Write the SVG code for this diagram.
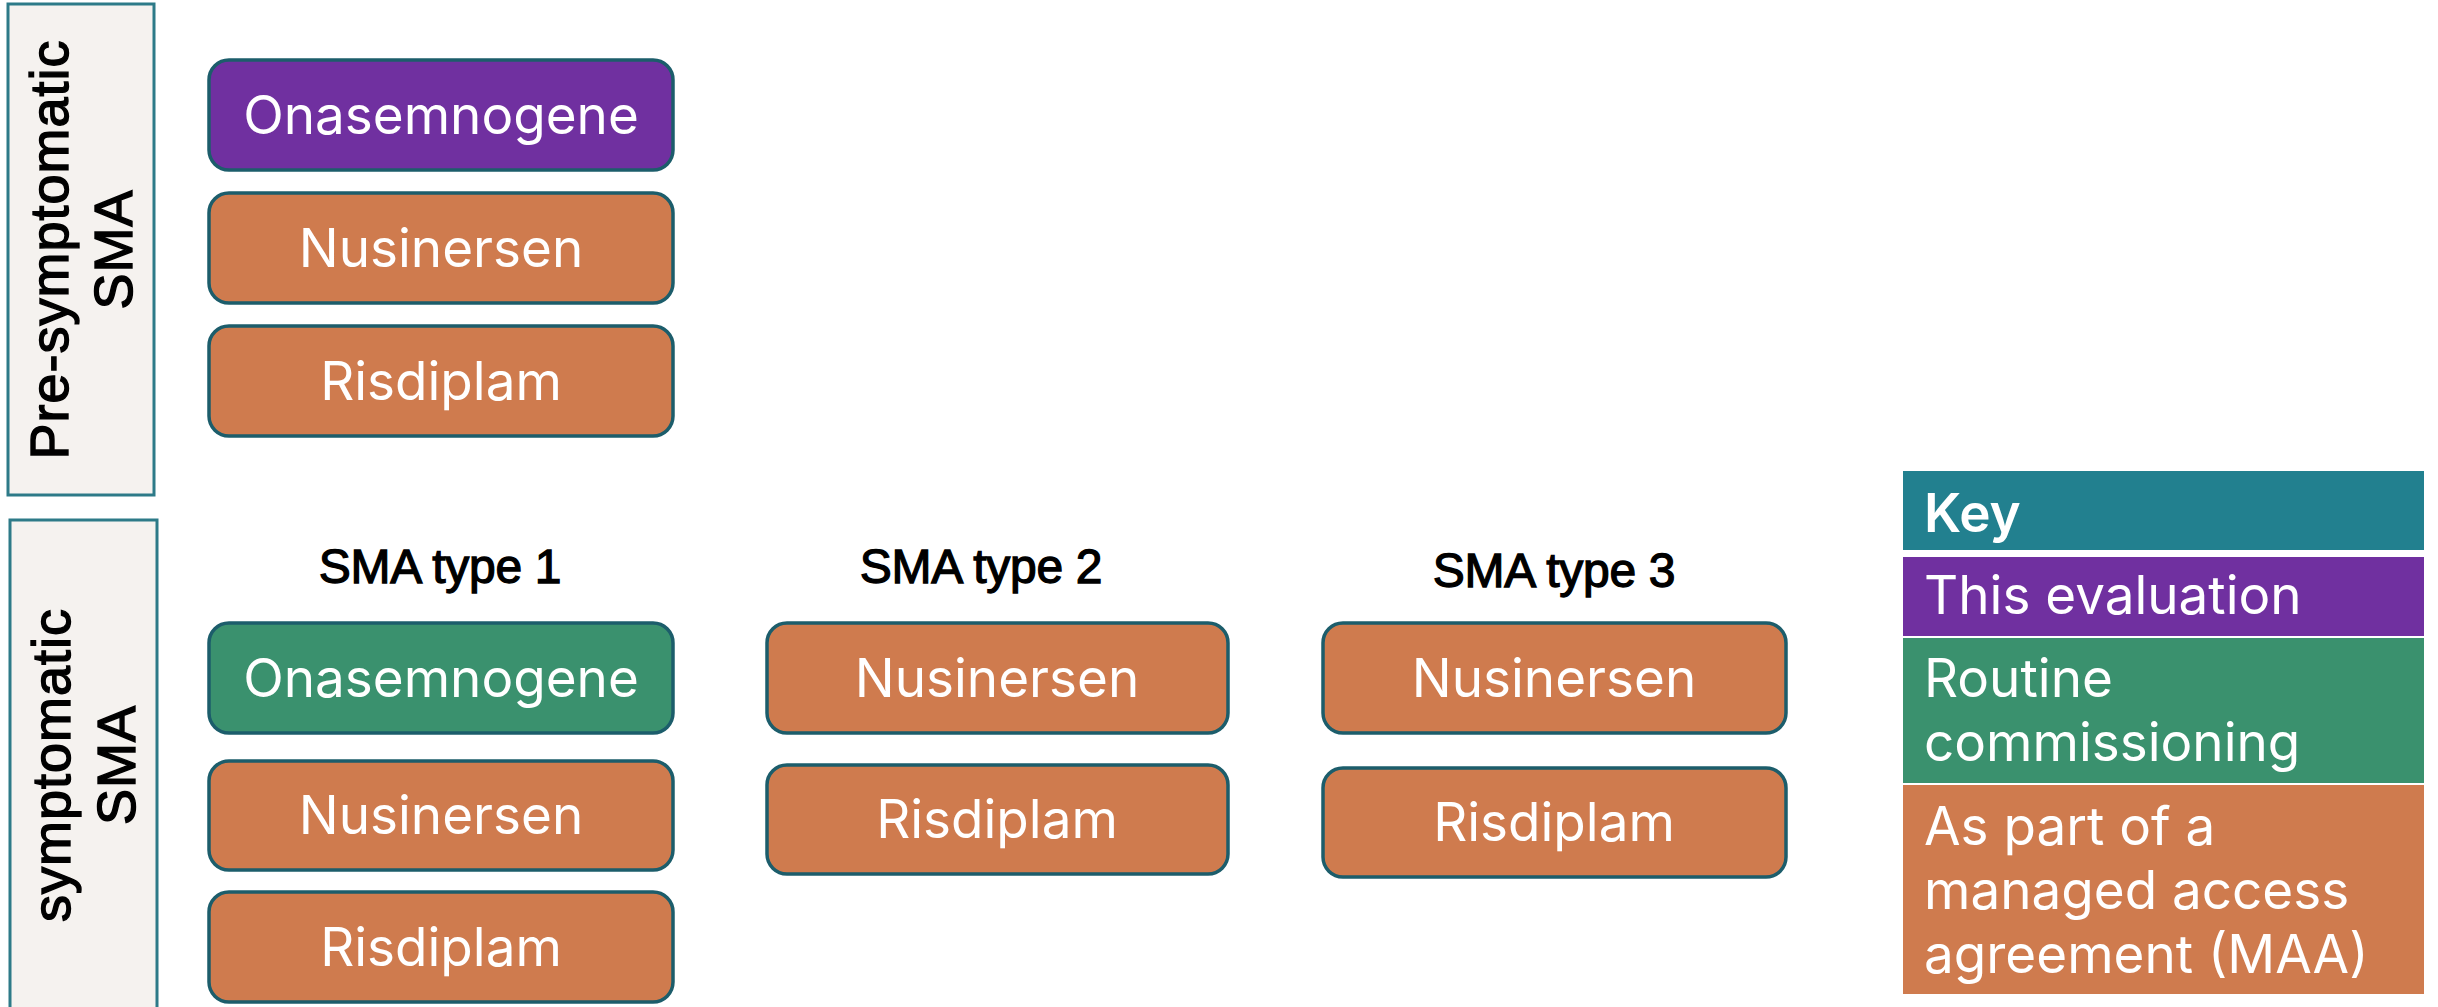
<svg xmlns="http://www.w3.org/2000/svg" width="2438" height="1007" viewBox="0 0 2438 1007">
  <style>
    .band { fill: #f5f2ef; stroke: #2d7a88; stroke-width: 3; }
    .band-label { font-family: "Liberation Sans", Arial, sans-serif; font-size: 54px; letter-spacing: 1px; fill: #000; stroke: #000; stroke-width: 1.4px; text-anchor: middle; }
    .node { stroke: #1c5d6b; stroke-width: 3.5; }
    .purple { fill: #7030a0; }
    .green { fill: #3a916e; }
    .orange { fill: #cf7b4e; }
    .teal { fill: #22808f; }
    .node-text { font-family: Inter, "Liberation Sans", sans-serif; font-size: 53px; fill: #fff; text-anchor: middle; }
    .col-head { font-family: "Liberation Sans", Arial, sans-serif; font-size: 48px; letter-spacing: -0.3px; fill: #000; stroke: #000; stroke-width: 1.3px; text-anchor: middle; }
    .key-text { font-family: Inter, "Liberation Sans", sans-serif; font-size: 53px; fill: #fff; }
  </style>
  <rect width="2438" height="1007" fill="#ffffff"/>

  <!-- Row bands -->
  <g id="band-presymptomatic">
    <rect class="band" x="8" y="4" width="146" height="491"/>
    <g transform="translate(0,249.5) rotate(-90)">
      <text class="band-label" x="0" y="68">Pre-symptomatic</text>
      <text class="band-label" x="0" y="132">SMA</text>
    </g>
  </g>
  <g id="band-symptomatic">
    <rect class="band" x="10" y="520" width="147" height="495"/>
    <g transform="translate(0,765) rotate(-90)">
      <text class="band-label" x="0" y="70">symptomatic</text>
      <text class="band-label" x="0" y="135">SMA</text>
    </g>
  </g>

  <!-- Pre-symptomatic treatments -->
  <g id="pre-onasemnogene">
    <rect class="node purple" x="209" y="60" width="464" height="110" rx="20"/>
    <text class="node-text" x="441" y="134">Onasemnogene</text>
  </g>
  <g id="pre-nusinersen">
    <rect class="node orange" x="209" y="193" width="464" height="110" rx="20"/>
    <text class="node-text" x="441" y="267">Nusinersen</text>
  </g>
  <g id="pre-risdiplam">
    <rect class="node orange" x="209" y="326" width="464" height="110" rx="20"/>
    <text class="node-text" x="441" y="400">Risdiplam</text>
  </g>

  <!-- Column headings -->
  <text class="col-head" x="440" y="583">SMA type 1</text>
  <text class="col-head" x="981" y="583">SMA type 2</text>
  <text class="col-head" x="1554" y="587">SMA type 3</text>

  <!-- SMA type 1 -->
  <g id="t1-onasemnogene">
    <rect class="node green" x="209" y="623" width="464" height="110" rx="20"/>
    <text class="node-text" x="441" y="697">Onasemnogene</text>
  </g>
  <g id="t1-nusinersen">
    <rect class="node orange" x="209" y="761" width="464" height="109" rx="20"/>
    <text class="node-text" x="441" y="834">Nusinersen</text>
  </g>
  <g id="t1-risdiplam">
    <rect class="node orange" x="209" y="892" width="464" height="110" rx="20"/>
    <text class="node-text" x="441" y="966">Risdiplam</text>
  </g>

  <!-- SMA type 2 -->
  <g id="t2-nusinersen">
    <rect class="node orange" x="767" y="623" width="461" height="110" rx="20"/>
    <text class="node-text" x="997" y="697">Nusinersen</text>
  </g>
  <g id="t2-risdiplam">
    <rect class="node orange" x="767" y="765" width="461" height="109" rx="20"/>
    <text class="node-text" x="997" y="838">Risdiplam</text>
  </g>

  <!-- SMA type 3 -->
  <g id="t3-nusinersen">
    <rect class="node orange" x="1323" y="623" width="463" height="110" rx="20"/>
    <text class="node-text" x="1554" y="697">Nusinersen</text>
  </g>
  <g id="t3-risdiplam">
    <rect class="node orange" x="1323" y="768" width="463" height="109" rx="20"/>
    <text class="node-text" x="1554" y="841">Risdiplam</text>
  </g>

  <!-- Key -->
  <g id="key">
    <rect class="teal" x="1903" y="471" width="521" height="79"/>
    <text class="key-text" x="1924" y="532" font-weight="600">Key</text>
    <rect class="purple" x="1903" y="557" width="521" height="79"/>
    <text class="key-text" x="1924" y="614">This evaluation</text>
    <rect class="green" x="1903" y="638" width="521" height="145"/>
    <text class="key-text" x="1924" y="697">Routine</text>
    <text class="key-text" x="1924" y="761">commissioning</text>
    <rect class="orange" x="1903" y="785" width="521" height="209"/>
    <text class="key-text" x="1924" y="845">As part of a</text>
    <text class="key-text" x="1924" y="909">managed access</text>
    <text class="key-text" x="1924" y="973">agreement (MAA)</text>
  </g>

  <!-- No connectors in this diagram -->
  <g id="connectors"/>
</svg>
